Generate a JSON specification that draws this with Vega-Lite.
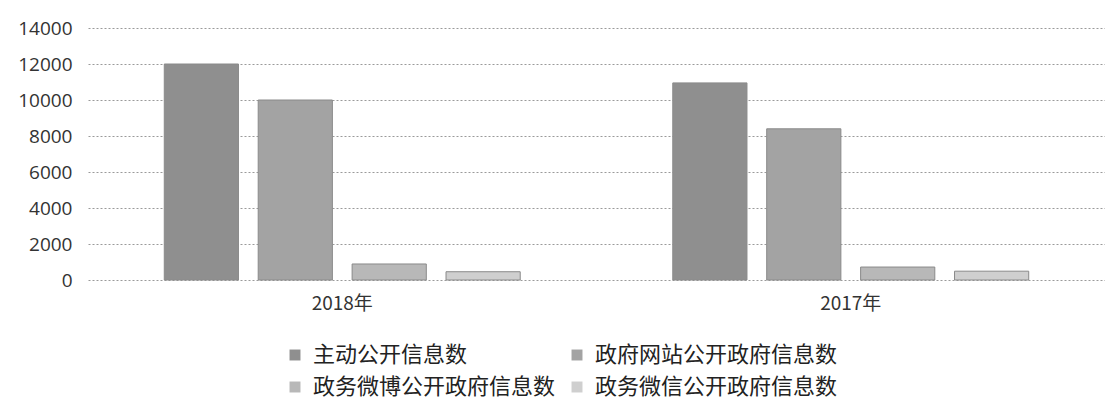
{
  "$schema": "https://vega.github.io/schema/vega-lite/v6.json",
  "autosize": {"type": "none"},
  "padding": {"left": 88, "top": 28, "right": 0, "bottom": 125},
  "width": 1017,
  "height": 252,
  "background": "white",
  "data": {
    "values": [
      {"year": "2018年", "series": "主动公开信息数", "value": 12000},
      {"year": "2018年", "series": "政府网站公开政府信息数", "value": 10000},
      {"year": "2018年", "series": "政务微博公开政府信息数", "value": 890},
      {"year": "2018年", "series": "政务微信公开政府信息数", "value": 460},
      {"year": "2017年", "series": "主动公开信息数", "value": 10950},
      {"year": "2017年", "series": "政府网站公开政府信息数", "value": 8400},
      {"year": "2017年", "series": "政务微博公开政府信息数", "value": 720},
      {"year": "2017年", "series": "政务微信公开政府信息数", "value": 490}
    ]
  },
  "mark": {"type": "bar", "stroke": "#8a8a8a", "strokeWidth": 1},
  "encoding": {
    "x": {
      "field": "year", "type": "nominal", "sort": null, "title": null,
      "scale": {"paddingInner": 0.3, "paddingOuter": 0.15},
      "axis": {"labelAngle": 0, "labelFont": "Noto Sans CJK SC", "labelFontSize": 19, "labelColor": "#333", "domain": false, "ticks": false, "labelPadding": 14}
    },
    "xOffset": {
      "field": "series", "type": "nominal", "sort": null,
      "scale": {"paddingInner": 0.21, "paddingOuter": 0}
    },
    "y": {
      "field": "value", "type": "quantitative", "title": null,
      "scale": {"domain": [0, 14000]},
      "axis": {"values": [0, 2000, 4000, 6000, 8000, 10000, 12000, 14000], "format": "d", "labelFont": "Open Sans", "labelFontSize": 19, "labelColor": "#333", "domain": false, "ticks": false, "labelPadding": 16, "grid": true, "gridColor": "#9a9a9a", "gridDash": [2, 2], "gridWidth": 1}
    },
    "color": {
      "field": "series", "type": "nominal", "sort": null, "title": null,
      "scale": {
        "domain": ["主动公开信息数", "政府网站公开政府信息数", "政务微博公开政府信息数", "政务微信公开政府信息数"],
        "range": ["#8f8f8f", "#a3a3a3", "#b8b8b8", "#cfcfcf"]
      },
      "legend": {
        "orient": "none", "legendX": 196, "legendY": 316, "columns": 2, "direction": "horizontal",
        "symbolType": "square", "symbolSize": 120, "symbolStrokeWidth": 0,
        "labelFont": "Noto Sans CJK SC", "labelFontSize": 22, "labelColor": "#222", "labelLimit": 400,
        "rowPadding": 10, "columnPadding": 10, "labelOffset": 7
      }
    }
  },
  "config": {"view": {"stroke": null}}
}
